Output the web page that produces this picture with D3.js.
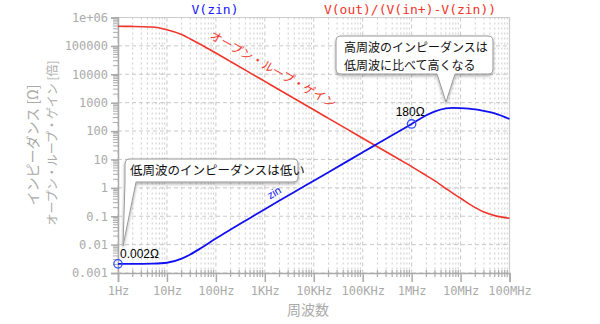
<!DOCTYPE html>
<html><head><meta charset="utf-8">
<script src="https://cdn.jsdelivr.net/npm/d3@7"></script>
<style>
body{margin:0;background:#fff;}
svg{display:block;}
</style></head>
<body><svg id="chart" width="600" height="324"></svg>
<script>
const freqs = [1,2,5,10,20,30,50,100,200,500,1e3,2e3,5e3,1e4,2e4,5e4,1e5,2e5,5e5,1e6,2e6,3e6,5e6,7e6,1e7,2e7,3e7,5e7,1e8];
const gainOL = [4.9e5,4.85e5,4.6e5,3.7e5,2.5e5,1.75e5,1.1e5,5.6e4,2.8e4,1.12e4,5600,2800,1120,560,280,112,56,28,11.2,5.6,2.7,1.75,0.95,0.64,0.43,0.2,0.14,0.105,0.085];
const zin = [0.0021,0.0021,0.00215,0.0023,0.0032,0.0045,0.0076,0.0165,0.034,0.087,0.177,0.356,0.89,1.78,3.56,8.9,17.8,35.6,89,178,360,490,630,660,645,580,510,420,265];
const xTicks = [1,10,100,1e3,1e4,1e5,1e6,1e7,1e8];
const xTickLabels = ["1Hz","10Hz","100Hz","1KHz","10KHz","100KHz","1MHz","10MHz","100MHz"];
const yTicks = [1e6,1e5,1e4,1e3,100,10,1,0.1,0.01,0.001];
const yTickLabels = ["1e+06","100000","10000","1000","100","10","1","0.1","0.01","0.001"];
const markers = [{f:1, v:0.0021, label:"0.002Ω"},{f:1e6, v:178, label:"180Ω"}];

const svg = d3.select("#chart");
const L=118, R=509.5, T=17.5, B=273;
const x = d3.scaleLog().domain([1,1e8]).range([L,R]);
const y = d3.scaleLog().domain([0.001,1e6]).range([B,T]);
const mono = "'DejaVu Sans Mono', monospace";
const jp = "'Noto Sans CJK JP', sans-serif";
const gray = "#aaa";

const defs = svg.append("defs");
const flt = defs.append("filter").attr("id","sh").attr("x","-20%").attr("y","-20%").attr("width","140%").attr("height","160%");
flt.append("feDropShadow").attr("dx",0).attr("dy",1.5).attr("stdDeviation",1.5).attr("flood-color","#000").attr("flood-opacity",0.35);

// grid
const g = svg.append("g");
const minorX = [];
for (let d=1; d<1e8; d*=10) for (let k=2;k<10;k++) minorX.push(d*k);
g.selectAll(".mx").data(minorX).join("line")
  .attr("x1",d=>x(d)).attr("x2",d=>x(d)).attr("y1",T).attr("y2",B)
  .attr("stroke","#cccccc").attr("stroke-width",1).attr("stroke-dasharray","2,3");
g.selectAll(".Mx").data(xTicks).join("line")
  .attr("x1",d=>x(d)).attr("x2",d=>x(d)).attr("y1",T).attr("y2",B)
  .attr("stroke","#c8c8c8").attr("stroke-width",1).attr("stroke-dasharray","4,3");
g.selectAll(".My").data(yTicks).join("line")
  .attr("x1",L).attr("x2",R).attr("y1",d=>y(d)).attr("y2",d=>y(d))
  .attr("stroke","#c8c8c8").attr("stroke-width",1).attr("stroke-dasharray","4,3");
// border top/right
svg.append("path").attr("d",`M${L},${T}H${R}V${B}`).attr("fill","none").attr("stroke","#ccc").attr("stroke-width",1.2);

// axes
const xAxis = d3.axisBottom(x).tickValues(xTicks).tickFormat((d,i)=>xTickLabels[i]).tickSize(9).tickPadding(4);
const xa = svg.append("g").attr("transform",`translate(0,${B})`).call(xAxis);
xa.selectAll("text").attr("font-family",mono).attr("font-size",12).attr("fill",gray);
xa.selectAll("line,path").attr("stroke","#aaa").attr("stroke-width",1.5);
const xm = svg.append("g");
xm.selectAll("line").data(minorX).join("line").attr("x1",d=>x(d)).attr("x2",d=>x(d)).attr("y1",B-3).attr("y2",B+4).attr("stroke","#aaa").attr("stroke-width",1.2);

const yAxis = d3.axisLeft(y).tickValues(yTicks).tickFormat((d,i)=>yTickLabels[i]).tickSize(7).tickPadding(3);
const ya = svg.append("g").attr("transform",`translate(${L},0)`).call(yAxis);
ya.selectAll("text").attr("font-family",mono).attr("font-size",12).attr("fill",gray);
ya.selectAll("line,path").attr("stroke","#aaa").attr("stroke-width",1.5);
const minorY = [];
for (let d=0.001; d<1e6; d*=10) for (let k=2;k<10;k++) minorY.push(d*k);
svg.append("g").selectAll("line").data(minorY).join("line").attr("x1",L-5).attr("x2",L).attr("y1",d=>y(d)).attr("y2",d=>y(d)).attr("stroke","#aaa").attr("stroke-width",1);

// axis titles
svg.append("text").attr("x",308).attr("y",315).attr("text-anchor","middle").attr("font-family",jp).attr("font-size",14).attr("fill",gray).text("周波数");
svg.append("text").attr("transform","translate(38,145) rotate(-90)").attr("text-anchor","middle").attr("font-family",jp).attr("font-size",14).attr("fill",gray).text("インピーダンス [Ω]");
svg.append("text").attr("transform","translate(57,143) rotate(-90)").attr("text-anchor","middle").attr("font-family",jp).attr("font-size",12).attr("fill",gray).text("オープン・ループ・ゲイン [倍]");

// titles
svg.append("text").attr("x",215).attr("y",14).attr("text-anchor","middle").attr("font-family",mono).attr("font-size",13).attr("fill","#1a1aff").text("V(zin)");
svg.append("text").attr("x",410).attr("y",14).attr("text-anchor","middle").attr("font-family",mono).attr("font-size",13).attr("fill","#f0352a").text("V(out)/(V(in+)-V(zin))");

// lines
const line = vals => d3.line().x((d,i)=>x(freqs[i])).y((d,i)=>y(vals[i])).curve(d3.curveMonotoneX)(vals);
svg.append("path").attr("d",line(gainOL)).attr("fill","none").attr("stroke","#f0352a").attr("stroke-width",1.6);
svg.append("path").attr("d",line(zin)).attr("fill","none").attr("stroke","#1010f0").attr("stroke-width",1.8);

// markers
svg.selectAll(".mk").data(markers).join("circle").attr("cx",d=>x(d.f)).attr("cy",d=>y(d.v)).attr("r",4.2)
  .attr("fill","none").attr("stroke","#3050ff").attr("stroke-width",1.3);
svg.append("text").attr("x",x(1)+2).attr("y",y(0.0021)-6).attr("font-family","'Liberation Sans', Arial, sans-serif").attr("font-size",12).attr("fill","#000").text(markers[0].label);
svg.append("text").attr("x",x(1e6)-16).attr("y",y(178)-8).attr("font-family","'Liberation Sans', Arial, sans-serif").attr("font-size",12).attr("fill","#000").text(markers[1].label);

// in-line labels
svg.append("text").attr("transform","translate(276,196) rotate(-30)").attr("text-anchor","middle").attr("font-family","'Liberation Sans', sans-serif").attr("font-size",11).attr("fill","#1010f0").text("zin");
svg.append("text").attr("transform","translate(271,73) rotate(29.5)").attr("text-anchor","middle").attr("font-family",jp).attr("font-size",12).attr("fill","#f0352a").text("オープン・ループ・ゲイン");

// callouts
function callout(x0,y0,x1,y1,r,pa,pb,tx,ty){
  let p = `M${x0+r},${y0}H${x1-r}Q${x1},${y0} ${x1},${y0+r}V${y1-r}Q${x1},${y1} ${x1-r},${y1}H${pb}L${tx},${ty}L${pa},${y1}`;
  if (pa<=x0) p += `L${x0},${y1}`; else p += `H${x0+r}Q${x0},${y1} ${x0},${y1-r}`;
  p += `V${y0+r}Q${x0},${y0} ${x0+r},${y0}Z`;
  return p;
}
svg.append("path").attr("d",callout(125,159,298,182,5,125,136,123,246)).attr("fill","#fff").attr("stroke","#999").attr("stroke-width",1).attr("filter","url(#sh)");
svg.append("text").attr("x",130).attr("y",175).attr("font-family",jp).attr("font-size",12.5).attr("fill","#111").text("低周波のインピーダンスは低い");
svg.append("path").attr("d",callout(336,36,493,74,5,437,455,446,102)).attr("fill","#fff").attr("stroke","#999").attr("stroke-width",1).attr("filter","url(#sh)");
svg.append("text").attr("x",344).attr("y",52).attr("font-family",jp).attr("font-size",12).attr("fill","#111").text("高周波のインピーダンスは");
svg.append("text").attr("x",344).attr("y",70).attr("font-family",jp).attr("font-size",12).attr("fill","#111").text("低周波に比べて高くなる");
</script></body></html>
